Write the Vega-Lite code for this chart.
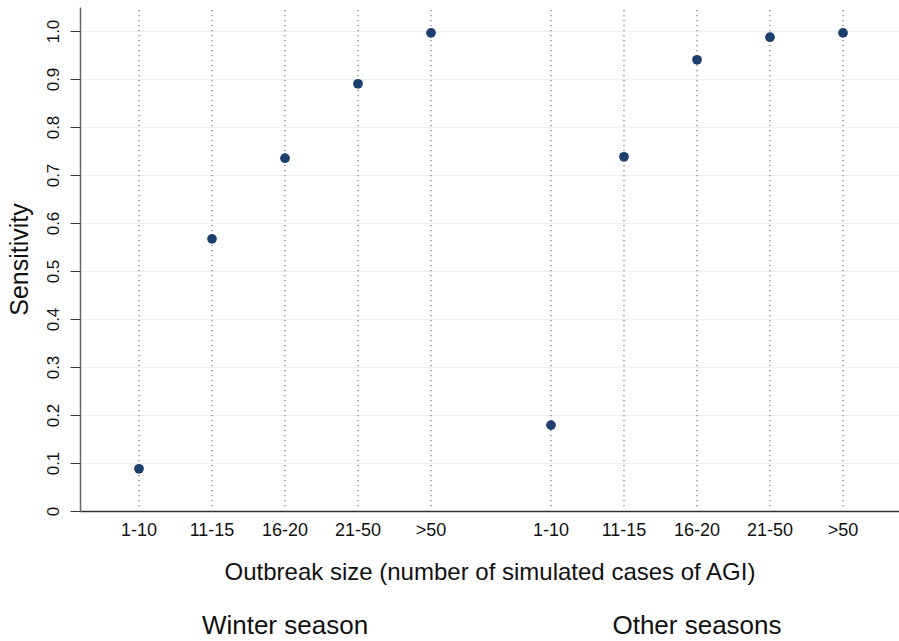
{
  "$schema": "https://vega.github.io/schema/vega-lite/v6.json",
  "width": 819,
  "height": 504,
  "autosize": {"type": "none"},
  "padding": {"left": 80, "top": 7, "right": 0, "bottom": 130},
  "background": "white",
  "config": {"view": {"stroke": null}, "font": "Liberation Sans"},
  "data": {
    "values": [
      {"season": "Winter season", "size": "1-10", "sensitivity": 0.088},
      {"season": "Winter season", "size": "11-15", "sensitivity": 0.567},
      {"season": "Winter season", "size": "16-20", "sensitivity": 0.735},
      {"season": "Winter season", "size": "21-50", "sensitivity": 0.890},
      {"season": "Winter season", "size": ">50", "sensitivity": 0.996},
      {"season": "Other seasons", "size": "1-10", "sensitivity": 0.179},
      {"season": "Other seasons", "size": "11-15", "sensitivity": 0.738},
      {"season": "Other seasons", "size": "16-20", "sensitivity": 0.940},
      {"season": "Other seasons", "size": "21-50", "sensitivity": 0.987},
      {"season": "Other seasons", "size": ">50", "sensitivity": 0.996}
    ]
  },
  "encoding": {
    "x": {
      "field": "season",
      "type": "nominal",
      "sort": ["Winter season", "Other seasons"],
      "scale": {"paddingInner": 0.11408, "paddingOuter": 0.05097, "align": 0.5357},
      "axis": {
        "orient": "bottom",
        "ticks": false,
        "grid": false,
        "labelAngle": 0,
        "labelFontSize": 26,
        "labelColor": "#111",
        "labelPadding": 101,
        "domainColor": "#333",
        "domainWidth": 1.5,
        "title": "Outbreak size (number of simulated cases of AGI)",
        "titleFontSize": 24,
        "titleFontWeight": "normal",
        "titleColor": "#111",
        "titleY": 61,
        "titleBaseline": "middle"
      }
    },
    "xOffset": {
      "field": "size",
      "type": "ordinal",
      "sort": ["1-10", "11-15", "16-20", "21-50", ">50"],
      "scale": {"type": "point", "padding": 0.5}
    },
    "y": {
      "field": "sensitivity",
      "type": "quantitative",
      "scale": {"domain": [0, 1.05], "nice": false},
      "axis": {
        "values": [0, 0.1, 0.2, 0.3, 0.4, 0.5, 0.6, 0.7, 0.8, 0.9, 1.0],
        "labelExpr": "datum.value == 0 ? '0' : format(datum.value, '.1f')",
        "labelAngle": -90,
        "labelFontSize": 17,
        "labelColor": "#111",
        "labelPadding": 8,
        "tickSize": 10,
        "tickColor": "#333",
        "domainColor": "#666",
        "domainWidth": 1.5,
        "grid": true,
        "gridColor": "#eaf0f6",
        "gridWidth": 1,
        "title": "Sensitivity",
        "titleFontSize": 25,
        "titleFontWeight": "normal",
        "titleColor": "#111",
        "titlePadding": 12
      }
    }
  },
  "layer": [
    {
      "mark": {"type": "rule", "strokeDash": [1, 4], "color": "#333", "strokeWidth": 1},
      "encoding": {
        "y": {"datum": 0.01, "type": "quantitative"},
        "y2": {"datum": 1.045}
      }
    },
    {
      "mark": {"type": "point", "filled": true, "size": 95, "color": "#1c3f6e", "opacity": 1}
    },
    {
      "mark": {"type": "text", "dy": 20, "fontSize": 18, "baseline": "middle", "color": "#111"},
      "encoding": {
        "y": {"datum": 0, "type": "quantitative"},
        "text": {"field": "size"}
      }
    }
  ]
}
